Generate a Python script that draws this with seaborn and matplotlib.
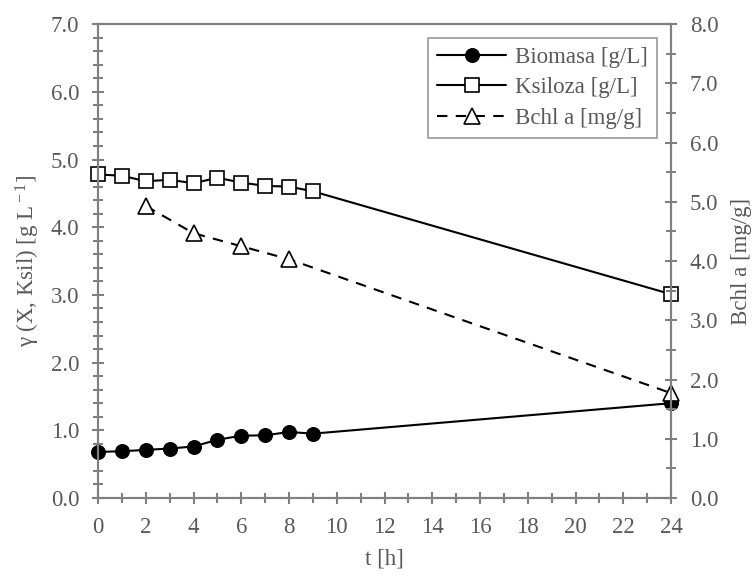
import numpy as np
import pandas as pd
import matplotlib
matplotlib.use("Agg")
import matplotlib.pyplot as plt
from matplotlib.ticker import MultipleLocator, FormatStrFormatter
import seaborn as sns

# ── data ─────────────────────────────────────────────────────────────────────
t_bio = [0, 1, 2, 3, 4, 5, 6, 7, 8, 9, 24]
biomasa = [0.68, 0.69, 0.71, 0.73, 0.76, 0.86, 0.92, 0.925, 0.975, 0.95, 1.40]
ksiloza = [4.78, 4.76, 4.68, 4.70, 4.65, 4.73, 4.66, 4.61, 4.60, 4.53, 3.01]
t_bchl = [2, 4, 6, 8, 24]
bchl = [4.93, 4.47, 4.25, 4.03, 1.77]

sns.set_style("ticks")
plt.rcParams["font.family"] = ["Liberation Serif", "DejaVu Serif"]
plt.rcParams["mathtext.fontset"] = "custom"
plt.rcParams["mathtext.rm"] = "Liberation Serif"
plt.rcParams["mathtext.it"] = "Liberation Serif:italic"

GREY = "#808080"
TXT = "#595959"
FS = 16.5

df1 = pd.DataFrame({"t": t_bio, "Biomasa": biomasa, "Ksiloza": ksiloza})
df2 = pd.DataFrame({"t": t_bchl, "Bchl": bchl})

fig = plt.figure(figsize=(7.54, 5.75), dpi=100)
ax = fig.add_axes([0.130, 0.134, 0.760, 0.824])
ax2 = ax.twinx()

sns.lineplot(data=df1, x="t", y="Biomasa", ax=ax, color="black", lw=1.5,
             marker="o", markersize=10, markerfacecolor="black",
             markeredgecolor="black", label="Biomasa [g/L]", legend=False, clip_on=False)
sns.lineplot(data=df1, x="t", y="Ksiloza", ax=ax, color="black", lw=1.5,
             marker="s", markersize=9.5, markerfacecolor="white",
             markeredgecolor="black", markeredgewidth=1.2,
             label="Ksiloza [g/L]", legend=False, clip_on=False)
sns.lineplot(data=df2, x="t", y="Bchl", ax=ax2, color="black", lw=1.5,
             linestyle=(0, (5, 4)), marker="^", markersize=11,
             markerfacecolor="white", markeredgecolor="black", markeredgewidth=1.2,
             label="Bchl a [mg/g]", legend=False, clip_on=False)

ax.set_xlim(0, 24)
ax.set_ylim(0, 7)
ax2.set_ylim(0, 8)

ax.xaxis.set_major_locator(MultipleLocator(2))
ax.xaxis.set_minor_locator(MultipleLocator(1))
ax.yaxis.set_major_locator(MultipleLocator(1))
ax.yaxis.set_minor_locator(MultipleLocator(0.2))
ax.yaxis.set_major_formatter(FormatStrFormatter("%.1f"))
ax2.yaxis.set_major_locator(MultipleLocator(1))
ax2.yaxis.set_minor_locator(MultipleLocator(0.5))
ax2.yaxis.set_major_formatter(FormatStrFormatter("%.1f"))

for a in (ax, ax2):
    for s in a.spines.values():
        s.set_color(GREY)
        s.set_linewidth(1.5)
    a.tick_params(which="both", direction="inout", color=GREY, width=1.5,
                  labelsize=FS, labelcolor=TXT)
    a.tick_params(which="major", length=9)
    a.tick_params(which="minor", length=7)
ax.tick_params(axis="x", pad=9)
ax.tick_params(axis="y", pad=9)
ax2.tick_params(axis="y", pad=9)

ax.set_xlabel("t [h]", fontsize=FS, color=TXT, labelpad=8)
ax.set_ylabel(r"γ (X, Ksil) [g L$^{\rm -1}$]", fontsize=FS, color=TXT, labelpad=6)
ax2.set_ylabel("Bchl a [mg/g]", fontsize=FS, color=TXT, labelpad=9)

h1, l1 = ax.get_legend_handles_labels()
h2, l2 = ax2.get_legend_handles_labels()
leg = ax2.legend(h1 + h2, l1 + l2, loc="upper right", fontsize=FS,
                 frameon=True, fancybox=False, handlelength=3.0,
                 handletextpad=0.4, borderaxespad=0.6, labelspacing=0.4,
                 borderpad=0.4)
leg.get_frame().set_edgecolor(GREY)
leg.get_frame().set_linewidth(1.2)
for txt in leg.get_texts():
    txt.set_color(TXT)

fig.savefig("out.png", dpi=100)
